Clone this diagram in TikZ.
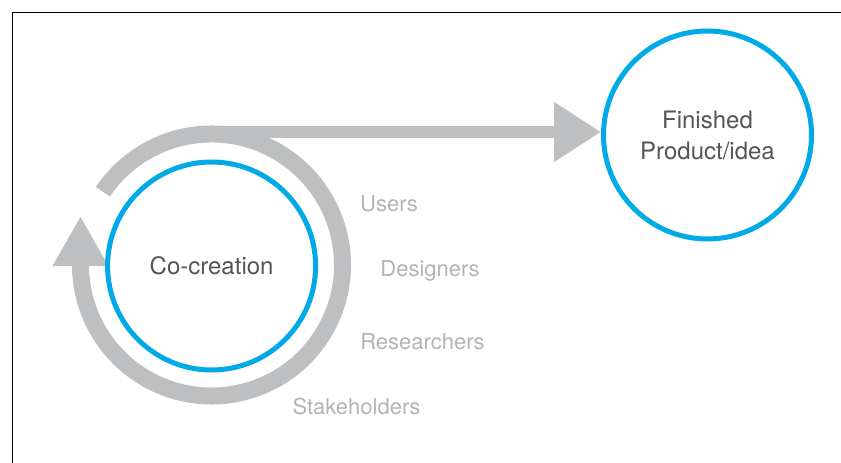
\documentclass[tikz,border=0pt]{standalone}
\usepackage{fontspec}
\setmainfont{TeX Gyre Heros}
\usetikzlibrary{arrows.meta,calc}
\definecolor{ringgray}{RGB}{190,191,193}
\definecolor{cyanline}{RGB}{0,170,230}
\definecolor{labelgray}{RGB}{180,180,180}
\definecolor{textgray}{RGB}{85,85,85}
\begin{document}
\begin{tikzpicture}[x=1pt,y=1pt,
  stage/.style={circle,draw=cyanline,line width=5pt,minimum size=208pt,inner sep=0pt,
    text=textgray,font=\fontsize{24}{31}\selectfont,align=center},
  role/.style={text=labelgray,font=\fontsize{22}{26}\selectfont,inner sep=0pt,anchor=base},
  loop/.style={draw=ringgray,line width=17pt},
  flow/.style={draw=ringgray,line width=12.5pt,-{Triangle[length=47pt,width=57pt]}},
  frame/.style={draw=black,line width=1.6pt}]
\useasboundingbox (0,0) rectangle (841,463);
\fill[white] (0,0) rectangle (841,463);
% page frame (top and left edges)
\draw[frame] (12.5,0) -- (12.5,450.5) -- (841,450.5);

% feedback loop around the co-creation stage
\coordinate (hub) at (211.5,198);
\draw[loop] (hub) ++(146:131) arc[start angle=146,end angle=-180,radius=131] coordinate (loopend);
\fill[ringgray] ($(loopend)+(-28,-1)$) -- ($(loopend)+(28,-1)$) -- ($(loopend)+(0,48)$) -- cycle;

% stages
\node[stage] (cocreate) at (211.6,197) {Co-creation};
\node[stage] (finished) at (707.5,328) {Finished\\Product/idea};

% outcome arrow leaving the top of the loop
\coordinate (launch) at (211.5,331);
\draw[flow] (launch) -- (launch -| finished.west);

% participants
\node[role] (users) at (389,251) {Users};
\node[role] (designers) at (430,186) {Designers};
\node[role] (researchers) at (422.5,113) {Researchers};
\node[role] (stakeholders) at (356.5,48) {Stakeholders};
\end{tikzpicture}
\end{document}
